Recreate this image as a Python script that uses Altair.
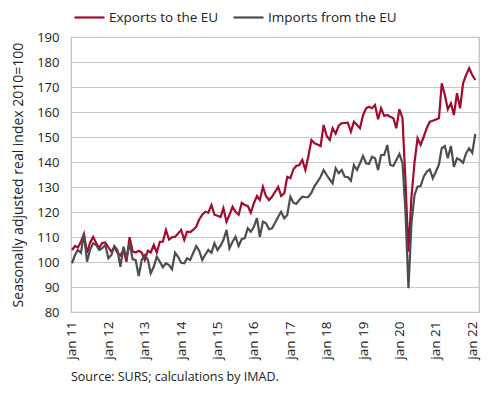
import altair as alt
import pandas as pd

start_month = "2011-01-01"

exports_eu = [
    104.8, 106.4, 105.8, 108.1, 111.2, 103.6, 107.6, 110.0, 107.6, 105.6, 107.6, 107.8,
    105.9, 104.1, 106.0, 103.7, 102.7, 104.8, 100.1, 109.9, 104.2, 103.8, 104.5, 103.8,
    100.8, 104.5, 103.8, 106.8, 103.8, 108.1, 108.1, 112.8, 109.0, 109.9, 110.1, 111.4,
    112.8, 108.8, 112.1, 112.0, 112.8, 114.1, 117.0, 118.9, 120.1, 119.7, 122.8, 118.9,
    118.5, 118.0, 121.5, 116.1, 118.9, 122.1, 120.1, 118.9, 123.7, 122.8, 122.4, 119.7,
    123.5, 126.4, 124.8, 130.1, 126.4, 124.8, 126.1, 128.1, 130.1, 126.4, 127.5, 134.1,
    133.5, 137.1, 138.4, 138.8, 140.8, 136.8, 142.4, 148.8, 147.5, 147.0, 146.4, 154.8,
    150.4, 148.8, 153.5, 151.3, 154.5, 155.5, 155.6, 155.7, 152.1, 156.1, 154.8, 153.5,
    158.8, 161.5, 162.1, 161.5, 162.8, 157.1, 161.5, 158.4, 158.8, 158.1, 157.5, 153.5,
    161.1, 157.5, 133.0, 104.1, 126.1, 140.0, 149.5, 146.8, 150.1, 153.5, 156.1, 156.5,
    157.0, 157.5, 171.5, 166.8, 161.1, 163.5, 158.8, 167.5, 161.5, 171.5, 174.8, 177.5,
    174.8, 172.8,
]

imports_eu = [
    99.5, 102.9, 104.8, 103.7, 111.2, 100.1, 104.8, 107.5, 106.8, 104.8, 105.5, 106.8,
    101.5, 102.8, 106.4, 104.8, 98.1, 106.1, 101.5, 107.5, 101.1, 100.8, 94.4, 100.8,
    102.8, 100.8, 95.5, 98.1, 102.1, 100.1, 97.9, 99.5, 98.8, 97.1, 103.7, 102.1,
    99.7, 99.5, 101.5, 100.8, 103.5, 106.4, 104.5, 100.8, 103.0, 104.8, 103.7, 107.5,
    104.8, 106.5, 108.8, 112.8, 105.5, 108.1, 110.1, 106.4, 109.1, 109.5, 113.5, 112.1,
    114.1, 117.5, 110.1, 116.1, 115.5, 113.1, 113.5, 115.7, 118.1, 120.1, 117.5, 118.8,
    126.1, 123.7, 123.2, 124.8, 126.1, 125.9, 126.0, 127.7, 130.4, 132.1, 134.1, 136.8,
    134.8, 133.0, 131.5, 137.5, 135.5, 136.8, 134.1, 134.0, 132.5, 138.8, 136.8, 139.5,
    142.4, 139.5, 139.2, 142.1, 141.5, 136.8, 142.8, 142.8, 146.8, 138.8, 138.4, 140.8,
    143.2, 139.5, 120.8, 89.5, 115.5, 126.8, 130.1, 130.4, 134.1, 136.1, 137.1, 133.5,
    136.1, 139.0, 145.5, 146.4, 141.5, 146.4, 138.1, 141.5, 140.8, 139.7, 143.5, 145.5,
    143.7, 151.2,
]

series_names = ["Exports to the EU", "Imports from the EU"]
series_colors = ["#a50a2d", "#4d4d4d"]
y_ticks = [80, 90, 100, 110, 120, 130, 140, 150, 160, 170, 180, 190]
x_ticks = [f"{y}-01-01" for y in range(2011, 2023)]

months = pd.date_range(start_month, periods=len(exports_eu), freq="MS")
df = pd.concat([
    pd.DataFrame({"date": months, "value": exports_eu, "series": series_names[0]}),
    pd.DataFrame({"date": months, "value": imports_eu, "series": series_names[1]}),
])

FONT = "Open Sans"
TXT = "#222222"

chart = (
    alt.Chart(df)
    .mark_line(strokeWidth=2.2)
    .encode(
        x=alt.X(
            "date:T",
            scale=alt.Scale(domain=["2010-12-22", "2022-03-10"], nice=False),
            axis=alt.Axis(
                title=None,
                values=x_ticks,
                labelExpr="'jan ' + timeFormat(datum.value, '%y')",
                labelAngle=270,
                labelAlign="right",
                labelBaseline="middle",
                labelPadding=9,
                ticks=False,
                grid=False,
                domain=False,
                labelFontSize=13.5,
                labelColor=TXT,
                labelFont=FONT,
            ),
        ),
        y=alt.Y(
            "value:Q",
            scale=alt.Scale(domain=[80, 190], nice=False),
            axis=alt.Axis(
                title="Seasonally adjusted real index 2010=100",
                values=y_ticks,
                ticks=False,
                domain=False,
                labelPadding=12,
                labelFontSize=13,
                labelColor=TXT,
                labelFont=FONT,
                titleFont=FONT,
                titleFontSize=14,
                titleFontWeight="normal",
                titleColor=TXT,
                titleX=-53,
                titleY=137.5,
                titleAngle=270,
                titleBaseline="middle",
                titleAlign="center",
                gridColor="#c8c8c8",
                gridWidth=1.2,
            ),
        ),
        color=alt.Color(
            "series:N",
            scale=alt.Scale(domain=series_names, range=series_colors),
            legend=alt.Legend(
                title=None,
                orient="none",
                legendX=2,
                legendY=-36,
                direction="horizontal",
                symbolType="stroke",
                symbolSize=900,
                symbolStrokeWidth=2.2,
                labelFontSize=13.5,
                labelFont=FONT,
                labelColor=TXT,
                labelOffset=3,
                columnPadding=10,
                padding=0,
            ),
        ),
    )
    .properties(
        width=408,
        height=275,
        padding={"left": 63, "top": 29, "right": 3, "bottom": 75},
        autosize=alt.AutoSizeParams(type="none"),
        title=alt.TitleParams(
            "Source: SURS; calculations by IMAD.",
            orient="bottom",
            anchor="start",
            frame="group",
            font=FONT,
            fontSize=12.5,
            fontWeight="normal",
            color=TXT,
            offset=12,
            dx=0,
        ),
    )
    .configure_view(stroke="#bfbfbf", strokeWidth=1.2)
)

chart.save("out.html", embed_options={"renderer": "svg", "actions": False})
